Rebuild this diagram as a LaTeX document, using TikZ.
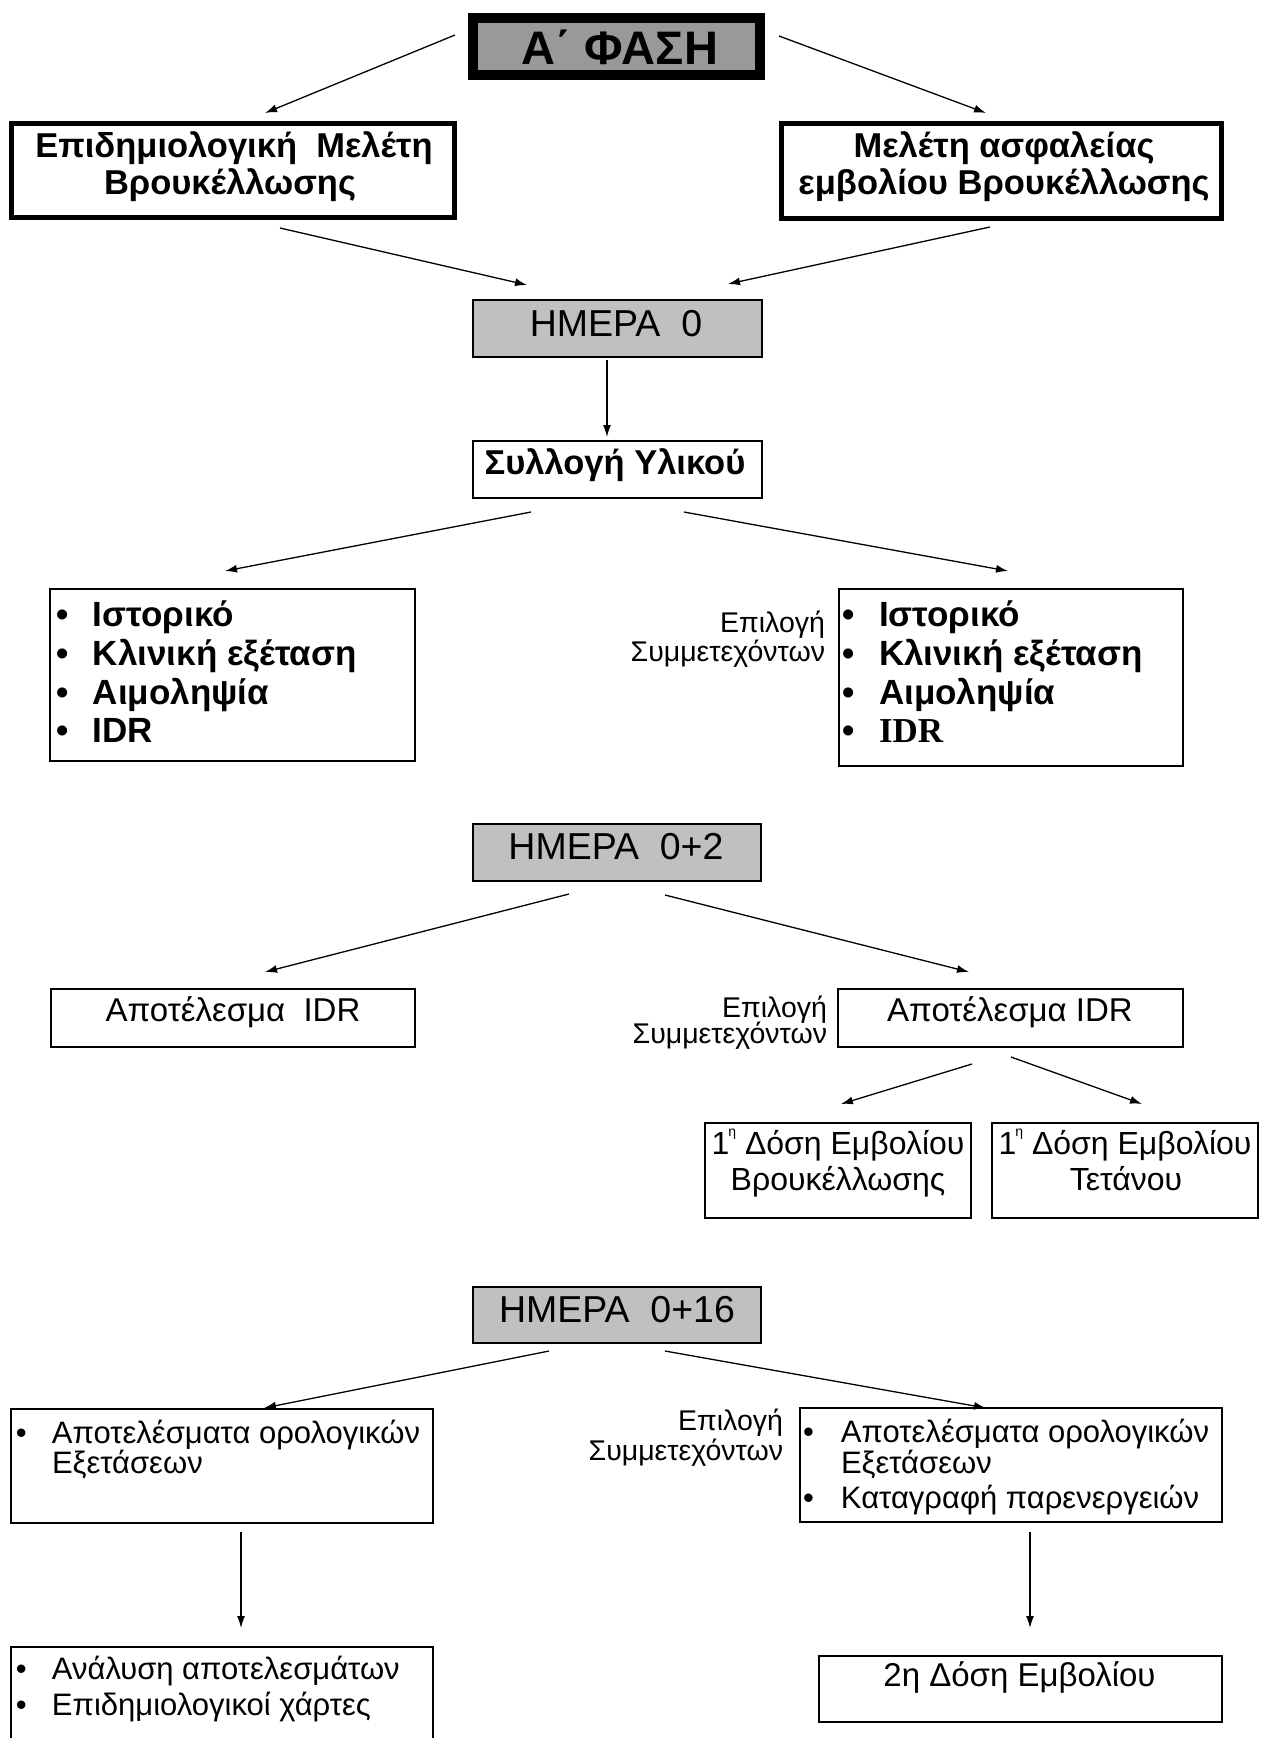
\documentclass[tikz,border=0pt]{standalone}
\usepackage{fontspec}
\setmainfont{Liberation Sans}
\newfontfamily\timesfam{Liberation Serif}
\usetikzlibrary{arrows.meta,fit}
\definecolor{phasegray}{HTML}{999999}
\definecolor{daygray}{HTML}{C0C0C0}
\newcommand\supeta{\kern-1pt\raisebox{0.55em}{\fontsize{14}{14}\selectfont η}}
\begin{document}
\begin{tikzpicture}[x=1pt,y=-1pt,
 arr/.style={-{Latex[length=12pt,width=8pt]},line width=1.3pt},
 boxline/.style={draw,line width=2.5pt,inner sep=0pt,outer sep=0pt},
 heavybox/.style={boxline,line width=5pt},
 daybox/.style={boxline,fill=daygray},
 phasebox/.style={boxline,line width=10pt,fill=phasegray},
 tx/.style={inner sep=0pt,outer sep=0pt,anchor=base,font=\fontsize{32}{36}\selectfont},
 txs/.style={tx,font=\fontsize{31}{36}\selectfont},
 txl/.style={txs,anchor=base west},
 bx/.style={tx,font=\fontsize{34.5}{38}\selectfont\bfseries},
 bxl/.style={bx,anchor=base west,font=\fontsize{35}{38}\selectfont\bfseries},
 dayt/.style={tx,font=\fontsize{37.5}{40}\selectfont},
 lab/.style={tx,anchor=base east,font=\fontsize{28.5}{30}\selectfont},
 ]
\fill[white] (0,0) rectangle (1261,1738);
\clip (0,0) rectangle (1261,1738);

% phase
\node[phasebox,fit={(473,18)(760,75)}] (phase) {};
\node[tx,font=\fontsize{47}{50}\selectfont\bfseries] (phaset) at (620,64) {Α΄ ΦΑΣΗ};

% top boxes
\node[heavybox,fit={(11.5,123.5)(454.5,217.5)}] (epid) {};
\node[bx] (epid1) at (234,157) {Επιδημιολογική~ Μελέτη};
\node[bx] (epid2) at (230,194) {Βρουκέλλωσης};
\node[heavybox,fit={(781.5,123.5)(1221.5,218.5)}] (safety) {};
\node[bx] (safety1) at (1004,157) {Μελέτη ασφαλείας};
\node[bx] (safety2) at (1004,194) {εμβολίου Βρουκέλλωσης};

% day 0
\node[daybox,fit={(473,300)(762,357)}] (day0) {};
\node[dayt] (day0t) at (616,336) {ΗΜΕΡΑ~ 0};
\node[boxline,fit={(473,441)(762,498)}] (coll) {};
\node[bx] (collt) at (615,474) {Συλλογή Υλικού};

\node[boxline,fit={(50,589)(415,761)}] (listL) {};
\node[bxl] (listL1) at (56,626) {\makebox[37pt][l]{•}Ιστορικό};
\node[bxl] (listL2) at (56,665) {\makebox[37pt][l]{•}Κλινική εξέταση};
\node[bxl] (listL3) at (56,704) {\makebox[37pt][l]{•}Αιμοληψία};
\node[bxl] (listL4) at (56,742) {\makebox[37pt][l]{•}IDR};

\node[boxline,fit={(839,589)(1183,766)}] (listR) {};
\node[bxl] (listR1) at (842,626) {\makebox[37pt][l]{•}Ιστορικό};
\node[bxl] (listR2) at (842,665) {\makebox[37pt][l]{•}Κλινική εξέταση};
\node[bxl] (listR3) at (842,704) {\makebox[37pt][l]{•}Αιμοληψία};
\node[bxl] (listR4) at (842,742) {\makebox[37pt][l]{•}{\timesfam IDR}};
\node[lab] (lab1a) at (825,632) {Επιλογή};
\node[lab] (lab1b) at (825,661) {Συμμετεχόντων};

% day 0+2
\node[daybox,fit={(473,824)(761,881)}] (day2) {};
\node[dayt] (day2t) at (616,859) {ΗΜΕΡΑ~ 0+2};
\node[boxline,fit={(51,989)(415,1047)}] (resL) {};
\node[tx,font=\fontsize{33}{36}\selectfont] (resLt) at (233,1021) {Αποτέλεσμα~ IDR};
\node[boxline,fit={(838,989)(1183,1047)}] (resR) {};
\node[tx,font=\fontsize{33}{36}\selectfont] (resRt) at (1010,1021) {Αποτέλεσμα IDR};
\node[lab] (lab2a) at (827,1017) {Επιλογή};
\node[lab] (lab2b) at (827,1043) {Συμμετεχόντων};

\node[boxline,fit={(705,1123)(971,1218)}] (dose1) {};
\node[tx] (dose1a) at (838,1154) {1\supeta{} Δόση Εμβολίου};
\node[tx] (dose1b) at (838,1190) {Βρουκέλλωσης};
\node[boxline,fit={(992,1123)(1258,1218)}] (dose2) {};
\node[tx] (dose2a) at (1125,1154) {1\supeta{} Δόση Εμβολίου};
\node[tx] (dose2b) at (1126,1190) {Τετάνου};

% day 0+16
\node[daybox,fit={(473,1287)(761,1343)}] (day16) {};
\node[dayt] (day16t) at (617,1322) {ΗΜΕΡΑ~ 0+16};
\node[boxline,fit={(11,1409)(433,1523)}] (serL) {};
\node[txl] (serL1) at (16,1443) {\makebox[36pt][l]{•}Αποτελέσματα ορολογικών};
\node[txl] (serL2) at (52,1473) {Εξετάσεων};
\node[boxline,fit={(800,1408)(1222,1522)}] (serR) {};
\node[txl] (serR1) at (803,1442) {\makebox[38pt][l]{•}Αποτελέσματα ορολογικών};
\node[txl] (serR2) at (841,1473) {Εξετάσεων};
\node[txl] (serR3) at (803,1508) {\makebox[38pt][l]{•}Καταγραφή παρενεργειών};
\node[lab] (lab3a) at (783,1430) {Επιλογή};
\node[lab] (lab3b) at (783,1460) {Συμμετεχόντων};

\node[boxline,fit={(11,1647)(433,1760)}] (anaL) {};
\node[txl] (anaL1) at (16,1679) {\makebox[36pt][l]{•}Ανάλυση αποτελεσμάτων};
\node[txl] (anaL2) at (16,1715) {\makebox[36pt][l]{•}Επιδημιολογικοί χάρτες};
\node[boxline,fit={(819,1656)(1222,1722)}] (dose2nd) {};
\node[tx,font=\fontsize{33}{36}\selectfont] (dose2ndt) at (1019.5,1686) {2η Δόση Εμβολίου};

% connectors
\draw[arr] ([shift={(-161.5,-11.5)}]phase.center) -- ([shift={(32,-57.5)}]epid.center);
\draw[arr] ([shift={(162.5,-10.5)}]phase.center) -- ([shift={(-15.5,-58)}]safety.center);
\draw[arr] ([shift={(47,57.5)}]epid.center) -- ([shift={(-90.5,-43.5)}]day0.center);
\draw[arr] ([shift={(-11.5,56)}]safety.center) -- ([shift={(110.5,-44.5)}]day0.center);
\draw[arr] ([shift={(-10.5,31.5)}]day0.center) -- ([shift={(-10.5,-32.5)}]coll.center);
\draw[arr] ([shift={(-86.5,42.5)}]coll.center) -- ([shift={(-7.5,-104)}]listL.center);
\draw[arr] ([shift={(66.5,42.5)}]coll.center) -- ([shift={(-3,-106.5)}]listR.center);
\draw[arr] ([shift={(-48,41.5)}]day2.center) -- ([shift={(32,-46)}]resL.center);
\draw[arr] ([shift={(48,42.5)}]day2.center) -- ([shift={(-41.5,-46)}]resR.center);
\draw[arr] ([shift={(-38.5,46)}]resR.center) -- ([shift={(3,-66.5)}]dose1.center);
\draw[arr] ([shift={(0.5,39)}]resR.center) -- ([shift={(17,-66.5)}]dose2.center);
\draw[arr] ([shift={(-68,36)}]day16.center) -- ([shift={(42,-58)}]serL.center);
\draw[arr] ([shift={(48,36)}]day16.center) -- ([shift={(-25,-57)}]serR.center);
\draw[arr] ([shift={(19,66)}]serL.center) -- ([shift={(19,-75.5)}]anaL.center);
\draw[arr] ([shift={(19,67)}]serR.center) -- ([shift={(9.5,-61)}]dose2nd.center);
\end{tikzpicture}
\end{document}
